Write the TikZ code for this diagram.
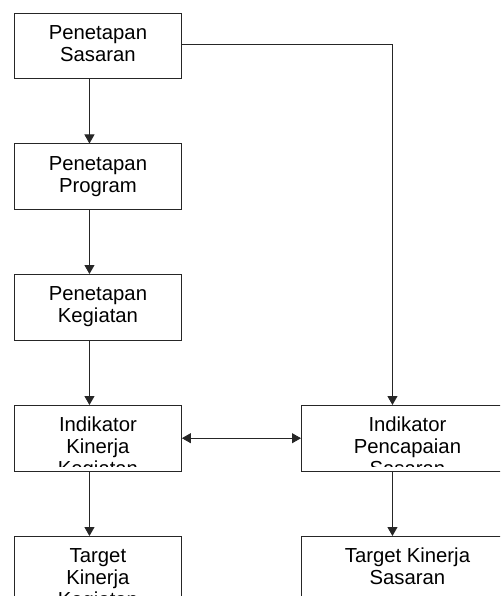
\documentclass[tikz,border=0pt]{standalone}
\usepackage{fontspec}
\setmainfont{Liberation Sans}
\usetikzlibrary{arrows.meta}
\begin{document}
\begin{tikzpicture}[x=1pt,y=-1pt,
  box/.style={draw=black!85, line width=0.9pt, rectangle, inner sep=0pt, anchor=north west, minimum height=65.5pt},
  lbox/.style={box, minimum width=167pt},
  rbox/.style={box, minimum width=212pt},
  arr/.style={draw=black!85, line width=0.9pt, -{Triangle[width=10pt,length=9pt]}},
  darr/.style={draw=black!85, line width=0.9pt, {Triangle[width=10pt,length=9pt]}-{Triangle[width=10pt,length=9pt]}},
  lbl/.style={anchor=base, inner sep=0pt, font=\fontsize{20.3}{22}\selectfont}]
\useasboundingbox (0,0) rectangle (500,596);
\clip (0,0) rectangle (500,596);
% boxes
\node[lbox] (b1) at (14,13) {};
\node[lbox] (b2) at (14,143.5) {};
\node[lbox] (b3) at (14,274) {};
\node[lbox] (b4) at (14,405) {};
\node[lbox] (b5) at (14,536) {};
\node[rbox] (r4) at (301,405) {};
\node[rbox] (r5) at (301,536) {};
% texts (clipped inside boxes)
\begin{scope}\clip ([yshift=5pt]b1.south west) rectangle (b1.north east);
\node[lbl] (t1) at ([yshift=-26.5pt]b1.north) {\parbox[t]{200pt}{\centering Penetapan\\Sasaran}};
\end{scope}
\begin{scope}\clip ([yshift=5pt]b2.south west) rectangle (b2.north east);
\node[lbl] (t2) at ([yshift=-26.5pt]b2.north) {\parbox[t]{200pt}{\centering Penetapan\\Program}};
\end{scope}
\begin{scope}\clip ([yshift=5pt]b3.south west) rectangle (b3.north east);
\node[lbl] (t3) at ([yshift=-26.5pt]b3.north) {\parbox[t]{200pt}{\centering Penetapan\\Kegiatan}};
\end{scope}
\begin{scope}\clip ([yshift=5pt]b4.south west) rectangle (b4.north east);
\node[lbl] (t4) at ([yshift=-26.5pt]b4.north) {\parbox[t]{200pt}{\centering Indikator\\Kinerja\\Kegiatan}};
\end{scope}
\begin{scope}\clip ([yshift=5pt]b5.south west) rectangle (b5.north east);
\node[lbl] (t5) at ([yshift=-26.5pt]b5.north) {\parbox[t]{200pt}{\centering Target\\Kinerja\\Kegiatan}};
\end{scope}
\begin{scope}\clip ([yshift=5pt]r4.south west) rectangle (r4.north east);
\node[lbl] (t6) at ([yshift=-26.5pt]r4.north) {\parbox[t]{200pt}{\centering Indikator\\Pencapaian\\Sasaran}};
\end{scope}
\begin{scope}\clip ([yshift=5pt]r5.south west) rectangle (r5.north east);
\node[lbl] (t7) at ([yshift=-26.5pt]r5.north) {\parbox[t]{200pt}{\centering Target Kinerja\\Sasaran}};
\end{scope}
% connectors
\draw[arr] ([xshift=-8.5pt]b1.south) -- ([xshift=-8.5pt]b2.north);
\draw[arr] ([xshift=-8.5pt]b2.south) -- ([xshift=-8.5pt]b3.north);
\draw[arr] ([xshift=-8.5pt]b3.south) -- ([xshift=-8.5pt]b4.north);
\draw[arr] ([xshift=-8.5pt]b4.south) -- ([xshift=-8.5pt]b5.north);
\draw[arr] ([yshift=1.5pt]b1.east) -| ([xshift=-15pt]r4.north);
\draw[arr] ([xshift=-15pt]r4.south) -- ([xshift=-15pt]r5.north);
\draw[darr] (b4.east) -- (r4.west);
\end{tikzpicture}
\end{document}
